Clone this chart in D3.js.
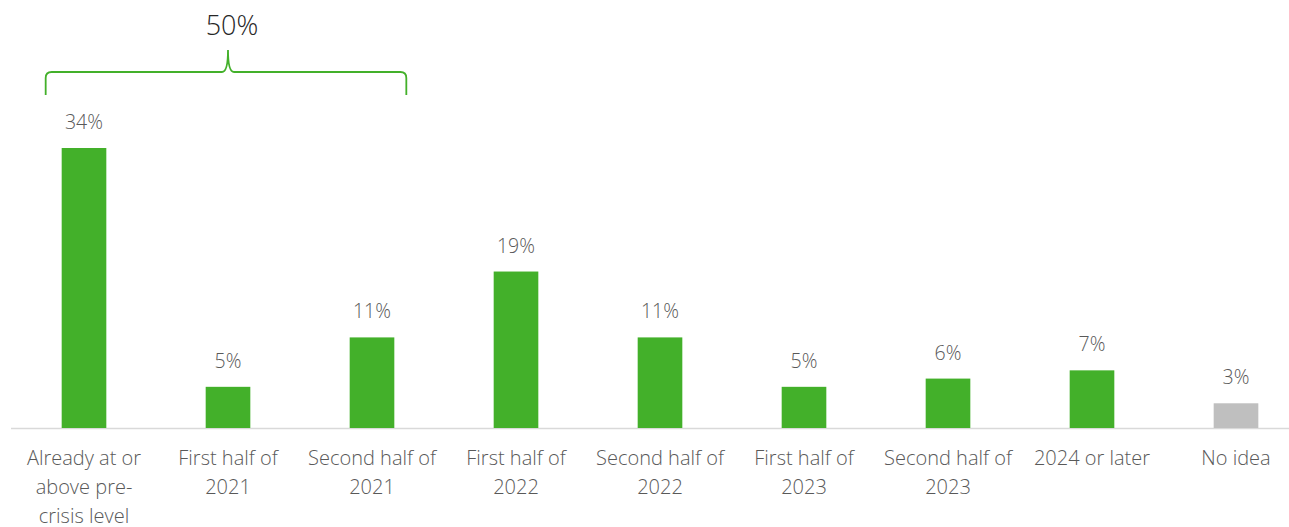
<!DOCTYPE html>
<html>
<head>
<meta charset="utf-8">
<script src="https://cdn.jsdelivr.net/npm/d3@7"></script>
<style>
  body { margin: 0; background: #fff; }
  text { font-family: "Open Sans", sans-serif; font-weight: 300; }
</style>
</head>
<body>
<div class="chart"></div>
<script>
// chart values
var categories = ["Already at or above pre-crisis level", "First half of 2021", "Second half of 2021",
  "First half of 2022", "Second half of 2022", "First half of 2023", "Second half of 2023",
  "2024 or later", "No idea"];
var values = [34, 5, 11, 19, 11, 5, 6, 7, 3];
var braceLabel = "50%";

var size = { width: 1289, height: 527 };
var baseY = 428;

var svg = d3.select(".chart").append("svg")
  .attr("width", size.width)
  .attr("height", size.height);

var x = d3.scaleBand().domain(categories).range([12, 1308]).paddingInner(0.69).paddingOuter(0.345);
var y = d3.scaleLinear().domain([0, 34]).range([baseY, 148]);

// baseline
svg.append("line")
  .attr("x1", 11).attr("x2", size.width)
  .attr("y1", baseY + 0.5).attr("y2", baseY + 0.5)
  .attr("stroke", "#d9d9d9").attr("stroke-width", 1.5);

svg.selectAll("rect.bar").data(categories)
  .enter().append("rect")
  .attr("class", "bar")
  .attr("x", function(d) { return x(d); })
  .attr("width", x.bandwidth())
  .attr("y", function(d, i) { return y(values[i]); })
  .attr("height", function(d, i) { return baseY - y(values[i]); })
  .attr("fill", function(d, i) { return d == "No idea" ? "#bfbfbf" : "#43b02a"; });

svg.selectAll("text.val").data(categories)
  .enter().append("text")
  .attr("class", "val")
  .attr("x", function(d) { return x(d) + x.bandwidth() / 2; })
  .attr("y", function(d, i) { return y(values[i]) - 19; })
  .attr("text-anchor", "middle")
  .attr("font-size", 19.5)
  .attr("fill", "#595959")
  .text(function(d, i) { return values[i] + "%"; });

// category labels, wrapped
function wrap(str, maxW) {
  var words = str.split(" "), lines = [], cur = "";
  words.forEach(function(w) {
    var test = cur ? cur + " " + w : w;
    if (test.length > maxW && cur) { lines.push(cur); cur = w; }
    else cur = test;
  });
  lines.push(cur);
  return lines;
}

svg.selectAll("text.cat").data(categories)
  .enter().append("text")
  .attr("class", "cat")
  .attr("text-anchor", "middle")
  .attr("font-size", 20)
  .attr("fill", "#595959")
  .each(function(d) {
    var cx = x(d) + x.bandwidth() / 2;
    var lines = d.indexOf("pre-crisis") >= 0 ? ["Already at or", "above pre-", "crisis level"] : wrap(d, 14);
    var t = d3.select(this);
    lines.forEach(function(l, k) {
      t.append("tspan").attr("x", cx).attr("y", 465 + k * 29.2).text(l);
    });
  });

// brace over first three bars
var bx0 = x(categories[0]) - 16;
var bx1 = x(categories[2]) + x.bandwidth() + 12;
var bm = x(categories[1]) + x.bandwidth() / 2;
var by = 72, r = 6;
var path = d3.path();
path.moveTo(bx0, by + 23);
path.lineTo(bx0, by + r);
path.quadraticCurveTo(bx0, by, bx0 + r, by);
path.lineTo(bm - r, by);
path.quadraticCurveTo(bm, by, bm, by - 22);
path.quadraticCurveTo(bm, by, bm + r, by);
path.lineTo(bx1 - r, by);
path.quadraticCurveTo(bx1, by, bx1, by + r);
path.lineTo(bx1, by + 23);
svg.append("path")
  .attr("d", path.toString())
  .attr("fill", "none")
  .attr("stroke", "#43b02a")
  .attr("stroke-width", 1.8);

svg.append("text")
  .attr("x", bm + 4)
  .attr("y", 35)
  .attr("text-anchor", "middle")
  .attr("font-size", 27)
  .attr("fill", "#262626")
  .text(braceLabel);
</script>
</body>
</html>
